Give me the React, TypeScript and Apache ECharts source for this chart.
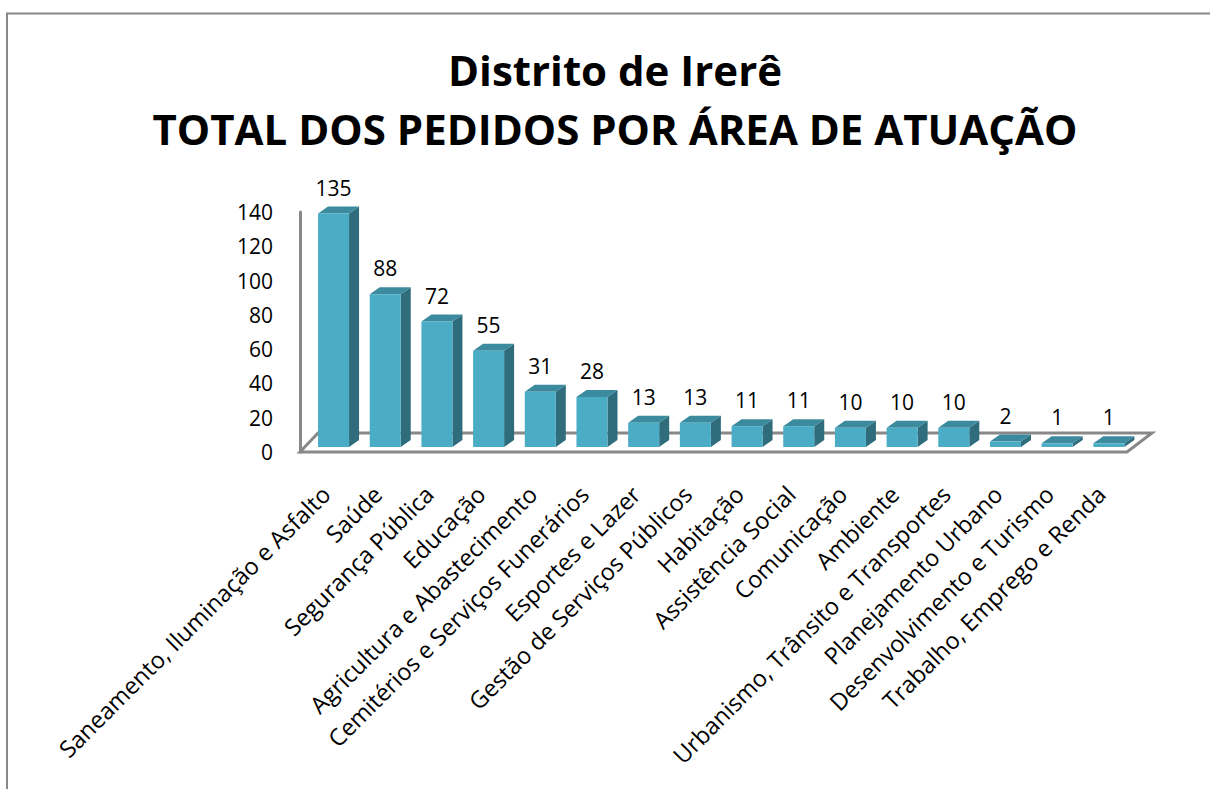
import React, { useEffect, useRef } from "react";
import * as echarts from "echarts";

const titleLine1 = "Distrito de Irerê";
const titleLine2 = "TOTAL DOS PEDIDOS POR ÁREA DE ATUAÇÃO";

const categories = [
  "Saneamento, Iluminação e Asfalto",
  "Saúde",
  "Segurança Pública",
  "Educação",
  "Agricultura e Abastecimento",
  "Cemitérios e Serviços Funerários",
  "Esportes e Lazer",
  "Gestão de Serviços Públicos",
  "Habitação",
  "Assistência Social",
  "Comunicação",
  "Ambiente",
  "Urbanismo, Trânsito e Transportes",
  "Planejamento Urbano",
  "Desenvolvimento e Turismo",
  "Trabalho, Emprego e Renda",
];

const values = [135, 88, 72, 55, 31, 28, 13, 13, 11, 11, 10, 10, 10, 2, 1, 1];

const yMin = 0;
const yMax = 140;
const yInterval = 20;

const FONT = "'Open Sans', 'Noto Sans', sans-serif";
const FRONT = "#4BACC6";
const TOP = "#3B8A9E";
const SIDE = "#2F6D7D";
const GRID_LINE = "#888888";

export default function App() {
  const ref = useRef<HTMLDivElement>(null);

  useEffect(() => {
    if (!ref.current) return;
    const chart = echarts.init(ref.current, undefined, { renderer: "svg" });

    const barData = values.map((v, i) => [i, v]);

    const titleStyle = { fontFamily: FONT, fontSize: 42, fontWeight: "bold", color: "#000", lineHeight: 50 };

    const option: any = {
      animation: false,
      backgroundColor: "#ffffff",
      title: [
        { text: titleLine1, left: 610, top: 39, textAlign: "center", textStyle: titleStyle },
        { text: titleLine2, left: 610, top: 98, textAlign: "center", textStyle: titleStyle },
      ],
      graphic: [
        {
          type: "rect",
          shape: { x: 7, y: 13.5, width: 1400, height: 1000 },
          style: { fill: "none", stroke: "#888888", lineWidth: 2 },
          silent: true,
          z: 0,
        },
      ],
      grid: { left: 300, right: 83, top: 212, bottom: 337, containLabel: false },
      xAxis: {
        type: "category",
        data: categories,
        axisLine: { show: false },
        axisTick: { show: false },
        splitLine: { show: false },
        axisLabel: {
          rotate: 45,
          margin: 38,
          interval: 0,
          fontFamily: FONT,
          fontSize: 23.5,
          color: "#000",
        },
      },
      yAxis: {
        type: "value",
        min: yMin,
        max: yMax,
        interval: yInterval,
        axisLine: { show: true, lineStyle: { color: GRID_LINE, width: 3 } },
        axisTick: { show: false },
        splitLine: { show: false },
        axisLabel: { margin: 27, fontFamily: FONT, fontSize: 21, color: "#000" },
      },
      series: [
        {
          type: "custom",
          name: "floor",
          data: [[0, 0]],
          z: 1,
          silent: true,
          clip: false,
          renderItem: (params: any) => {
            const cs = params.coordSys;
            const fy = cs.y + cs.height;
            return {
              type: "polygon",
              shape: {
                points: [
                  [cs.x, fy],
                  [cs.x + cs.width, fy],
                  [cs.x + cs.width + 25, fy - 19],
                  [cs.x + 18, fy - 19],
                ],
              },
              style: { fill: "#ffffff", stroke: GRID_LINE, lineWidth: 3, lineJoin: "miter" },
            };
          },
        },
        {
          type: "custom",
          name: "Pedidos",
          data: barData,
          z: 3,
          clip: false,
          renderItem: (params: any, api: any) => {
            const i = api.value(0);
            const v = api.value(1);
            const base = api.coord([i, 0]);
            const top = api.coord([i, v]);
            const band = api.size([1, 0])[0];
            const w = band * 0.6;
            const cx = base[0] + 7.7;
            const x0 = cx - w / 2;
            const x1 = cx + w / 2;
            const yb = base[1] - 5;
            const yt = top[1] - 7;
            const dx = 10;
            const dy = -7;
            return {
              type: "group",
              children: [
                {
                  type: "polygon",
                  shape: { points: [[x1, yt], [x1 + dx, yt + dy], [x1 + dx, yb + dy], [x1, yb]] },
                  style: { fill: SIDE },
                },
                {
                  type: "polygon",
                  shape: { points: [[x0, yt], [x0 + dx, yt + dy], [x1 + dx, yt + dy], [x1, yt]] },
                  style: { fill: TOP },
                },
                {
                  type: "rect",
                  shape: { x: x0, y: yt, width: w, height: yb - yt },
                  style: { fill: FRONT },
                },
                {
                  type: "text",
                  x: cx,
                  y: yt - 26,
                  style: {
                    text: String(v),
                    fontFamily: FONT,
                    fontSize: 21,
                    fill: "#000",
                    align: "center",
                    verticalAlign: "middle",
                  },
                },
              ],
            };
          },
        },
      ],
    };

    chart.setOption(option);
    return () => chart.dispose();
  }, []);

  return (
    <div
      ref={ref}
      style={{ position: "fixed", left: 0, top: 0, width: 1210, height: 789, background: "#fff" }}
    />
  );
}
